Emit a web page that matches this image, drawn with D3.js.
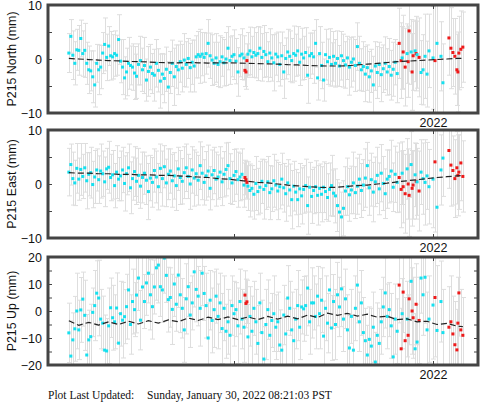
<!DOCTYPE html>
<html><head><meta charset="utf-8">
<script src="https://cdn.jsdelivr.net/npm/d3@7"></script>
<style>body{margin:0;background:#fff}svg{display:block}</style>
</head><body>
<svg id="chart" width="481" height="404"></svg>
<script>
// ---------- DATA ----------
const dates = [
2020.17,2020.18,2020.19,2020.20,2020.21,2020.22,2020.23,2020.24,2020.25,2020.26,
2020.27,2020.28,2020.29,2020.30,2020.31,2020.32,2020.33,2020.34,2020.35,2020.36,
2020.37,2020.38,2020.39,2020.40,2020.41,2020.42,2020.43,2020.44,2020.45,2020.46,
2020.47,2020.48,2020.49,2020.50,2020.51,2020.52,2020.53,2020.54,2020.55,2020.56,
2020.57,2020.58,2020.59,2020.60,2020.61,2020.62,2020.63,2020.64,2020.65,2020.66,
2020.67,2020.68,2020.69,2020.70,2020.71,2020.72,2020.73,2020.74,2020.75,2020.76,
2020.77,2020.78,2020.79,2020.80,2020.81,2020.82,2020.83,2020.84,2020.85,2020.86,
2020.87,2020.88,2020.89,2020.90,2020.91,2020.92,2020.93,2020.94,2020.95,2020.96,
2020.97,2020.98,2020.99,2021.00,2021.01,2021.02,2021.03,2021.04,2021.05,2021.055,
2021.06,2021.065,2021.07,2021.08,2021.09,2021.10,2021.11,2021.12,2021.13,2021.14,
2021.15,2021.16,2021.17,2021.18,2021.19,2021.20,2021.21,2021.22,2021.23,2021.24,
2021.25,2021.26,2021.27,2021.28,2021.29,2021.30,2021.31,2021.32,2021.33,2021.34,
2021.35,2021.36,2021.37,2021.38,2021.39,2021.40,2021.41,2021.42,2021.43,2021.44,
2021.45,2021.46,2021.47,2021.48,2021.49,2021.50,2021.51,2021.52,2021.53,2021.54,
2021.55,2021.56,2021.57,2021.58,2021.59,2021.60,2021.61,2021.62,2021.63,2021.64,
2021.65,2021.66,2021.67,2021.68,2021.69,2021.70,2021.71,2021.72,2021.73,2021.74,
2021.75,2021.76,2021.77,2021.78,2021.79,2021.80,2021.81,2021.82,2021.83,2021.84,
2021.845,2021.85,2021.86,2021.87,2021.875,2021.88,2021.89,2021.895,2021.90,2021.91,
2021.915,2021.92,2021.93,2021.94,2021.95,2021.96,2021.97,2021.98,2022.00,2022.01,
2022.02,2022.04,2022.05,2022.08,2022.09,2022.10,2022.11,2022.12,2022.125,2022.13,
2022.14,2022.15];

// epochs drawn in red (rapid solutions)
const rapidDates = [2021.055,2021.06,2021.065,2021.83,2021.84,2021.85,2021.86,2021.875,2021.88,
2021.895,2021.90,2021.915,2021.93,2022.01,2022.08,2022.09,2022.10,2022.11,2022.12,2022.125,
2022.13,2022.14,2022.15];

const north = [
1.1,4.2,0.7,-0.8,1.7,1.6,3.8,1.0,1.6,-0.8,
-2.0,-2.2,-3.3,-4.8,-0.8,-2.0,-1.5,1.1,2.7,0.3,
2.4,0.6,0.4,1.0,0.7,3.6,-0.4,-1.5,-3.5,-2.4,
-0.8,-1.2,-1.5,-2.6,-3.2,-1.0,-0.3,-2.0,-1.2,-3.9,
-2.3,-1.5,-2.7,-3.0,-0.8,-2.1,-4.1,-2.8,-3.6,-1.9,
-5.2,-2.5,-0.8,-3.3,-1.4,-2.0,-0.5,-1.7,-0.2,-1.0,
0.1,-1.6,-0.6,-1.3,0.4,0.8,0.5,0.9,0.3,1.0,
2.9,0.6,-0.2,-0.8,0.2,-1.0,-0.5,0.4,-0.7,0.0,
2.0,-0.3,0.5,0.8,-0.4,-2.4,0.6,0.9,0.2,-2.1,
-2.4,-0.3,0.9,1.5,0.4,1.2,0.7,1.0,2.0,0.3,
1.4,0.8,-0.5,1.1,0.2,-0.7,0.9,0.4,-1.0,0.6,
-2.4,0.1,1.3,0.5,-0.3,1.0,0.7,1.5,-0.6,0.9,
0.2,1.2,-3.0,0.6,1.0,0.4,2.9,-3.5,1.0,-1.2,
-3.9,0.8,-0.5,0.3,-1.0,0.5,-0.8,0.1,-1.3,0.6,
-0.3,-1.1,0.2,-1.5,-0.6,0.0,-1.2,2.3,-0.8,-2.0,
-1.4,-2.8,-1.6,-3.3,-2.2,-4.8,-1.3,-2.5,-1.0,-2.9,
-1.8,-0.8,-2.4,-1.4,-3.0,-1.9,-0.6,-2.7,2.9,-0.3,
0.2,1.3,-1.5,1.0,-0.5,5.2,1.3,-2.4,0.6,1.5,
1.0,0.8,0.3,-2.5,-2.0,0.5,-2.8,1.5,0.2,-0.3,
2.9,0.5,-4.4,3.9,2.0,1.2,0.5,-2.0,-2.4,1.1,
1.8,2.2];

const east = [
2.2,3.6,1.0,0.2,2.9,0.9,2.7,1.4,3.0,0.6,
1.8,2.1,-0.1,1.3,2.6,0.8,2.4,1.9,0.4,2.8,
3.1,1.2,1.7,-0.3,2.2,0.9,1.5,2.6,0.1,1.9,
3.0,-0.7,1.0,2.3,0.5,1.6,-0.4,1.2,2.0,0.7,
-1.4,1.1,0.3,2.5,1.3,-0.5,2.9,1.0,3.2,0.2,
1.8,2.4,0.6,1.5,-0.3,2.8,1.2,0.5,2.1,3.0,
1.4,0.0,2.6,1.1,1.9,0.7,3.4,2.0,0.3,1.5,
2.4,-0.8,1.7,2.5,0.9,1.3,2.2,0.4,1.8,2.7,
3.4,1.0,0.2,1.6,2.3,0.8,1.3,1.8,-0.2,1.2,
0.8,0.3,-0.4,-1.2,-0.8,-1.9,0.1,-1.4,-0.6,0.5,
-1.0,-0.3,0.4,-1.6,-0.9,0.6,-0.2,-1.3,-0.5,0.9,
-0.7,-1.8,0.2,-1.1,-2.9,-0.4,-1.5,-2.9,-0.9,-2.2,
-1.0,-0.3,-4.0,-0.6,-2.3,-1.2,-0.5,-2.1,-0.8,-1.9,
-0.6,-1.4,-2.5,-1.0,-0.3,-1.7,-2.2,-4.0,-5.2,-6.1,
-4.5,-1.3,-0.5,-2.0,-1.1,0.2,-1.6,-0.4,0.9,-1.2,
-0.2,1.1,3.4,-0.7,0.8,-1.5,0.4,1.6,-0.9,2.0,
0.1,-1.8,0.9,1.4,2.4,-0.6,1.8,0.3,1.2,-1.0,
2.0,-0.5,-1.8,2.8,0.0,-2.1,3.6,-0.8,-0.2,1.7,
0.5,0.4,-1.3,2.2,1.0,0.3,1.5,-0.5,0.9,4.1,
-4.3,2.6,4.8,6.2,3.5,2.5,1.0,3.0,1.6,2.2,
3.9,1.4];

const up = [
-8.1,-16.7,-10.7,-6.6,0.0,-7.0,0.4,4.4,-1.6,-16.3,
-10.7,-9.5,-0.5,2.0,6.6,4.8,-3.0,-4.5,-14.5,-14.8,
-5.5,1.2,-2.5,-4.0,1.1,-11.9,-1.0,-3.4,-2.1,1.6,
7.8,-5.0,3.5,0.5,5.9,12.2,-3.4,8.9,3.5,10.4,
14.0,6.0,1.6,8.9,16.0,17.0,9.0,7.8,19.6,13.2,
4.2,5.0,0.6,10.0,2.5,13.3,6.0,1.0,-7.0,4.5,
9.0,-1.5,3.0,14.5,8.0,5.5,1.0,14.0,6.5,2.0,
-10.0,4.0,-3.5,0.5,5.5,-2.0,3.0,-6.5,1.0,-7.5,
-4.0,-9.0,2.0,-1.0,0.5,-5.5,3.5,-3.0,-6.0,5.9,
2.8,3.4,-9.6,-2.0,-7.5,1.0,-4.0,-12.0,3.0,-8.0,
-17.8,-5.0,0.5,-9.0,-3.5,-1.0,-6.0,-4.0,-12.6,-14.5,
-1.5,-8.5,4.8,1.0,-7.0,-11.0,-3.0,2.0,-6.0,1.5,
0.8,2.0,8.5,-4.0,3.0,3.0,-2.0,5.5,-1.0,4.0,
-9.3,1.0,-4.5,7.8,-6.3,3.5,-5.0,6.0,1.5,8.2,
-3.0,4.5,-7.0,-13.7,-2.0,-14.5,1.0,9.6,-4.0,3.0,
-8.0,-11.0,-16.3,-10.5,-13.0,-6.0,-18.9,-9.0,-12.0,-4.0,
1.5,6.7,-2.0,0.5,-5.5,-17.0,-3.0,-7.5,9.6,-14.0,
-1.0,7.0,-11.0,-3.0,-9.0,4.5,11.0,0.0,-2.5,-14.0,
2.5,-11.5,-3.5,12.2,6.0,12.5,-7.0,-3.0,2.2,5.0,
-7.2,3.5,-8.0,-6.0,-4.0,-8.5,-12.5,-14.4,-4.5,6.7,
-7.0,-9.0];

const northErr = [
3.6,3.1,4.5,4.0,3.8,4.6,3.4,4.2,5.0,3.9,
4.4,3.7,4.8,4.1,3.5,4.6,4.0,3.8,4.9,4.3,
3.6,4.5,4.1,4.2,3.7,4.6,4.0,5.1,3.9,4.4,
4.8,3.6,4.3,4.9,4.1,3.8,4.5,4.0,5.2,3.9,
4.6,4.2,3.7,4.8,4.4,4.0,5.0,3.8,4.5,4.1,
4.7,3.9,4.3,5.3,4.0,4.6,3.8,4.4,4.9,4.2,
3.7,4.5,4.1,4.8,3.9,4.3,5.0,4.0,4.6,3.8,
4.4,4.2,4.7,3.9,4.5,4.1,4.8,3.6,4.3,4.9,
4.0,4.4,3.8,4.6,4.2,4.5,3.9,4.7,4.1,3.0,
3.2,3.1,4.0,4.4,3.8,4.6,4.2,5.0,3.9,4.4,
4.8,4.1,3.7,4.5,4.3,5.2,3.9,4.6,4.0,4.4,
4.9,3.8,4.2,4.7,4.1,5.1,3.9,4.5,4.3,4.8,
4.0,4.6,5.2,4.2,3.8,4.9,4.4,4.1,5.0,4.3,
3.9,4.7,4.2,5.3,4.0,4.6,4.4,5.1,3.8,4.5,
4.9,4.3,4.0,5.2,4.6,4.1,4.8,4.4,5.0,3.9,
4.6,5.1,4.2,4.7,4.0,5.3,4.5,4.8,4.1,5.0,
4.4,4.9,4.3,5.2,4.6,5.0,4.2,5.4,6.5,7.0,
5.8,6.8,7.2,5.5,6.6,7.5,6.0,7.1,6.4,5.7,
6.9,6.2,7.3,5.9,6.5,7.8,6.1,6.8,9.5,14.0,
16.0,6.4,7.2,6.9,7.5,6.3,7.0,6.6,7.4,6.8,
7.1,6.5];

const eastErr = [
4.4,3.8,4.9,4.2,4.6,3.9,4.8,4.1,4.5,5.2,
4.0,4.7,4.3,4.9,3.9,4.4,5.0,4.2,4.6,3.8,
4.8,4.3,4.5,4.1,4.9,4.0,4.6,4.2,5.1,3.9,
4.4,4.8,4.0,4.6,4.3,5.0,4.1,4.7,3.9,4.5,
5.2,4.2,4.6,4.0,4.8,4.3,4.5,5.1,3.9,4.4,
4.7,4.1,4.9,4.3,4.6,4.0,5.0,4.2,4.8,4.4,
4.1,4.7,4.3,5.2,4.0,4.6,4.4,4.9,4.2,4.5,
4.8,4.0,4.6,4.3,5.0,4.1,4.7,4.4,4.2,4.9,
4.3,4.6,4.0,4.8,4.2,5.1,4.4,4.7,4.1,3.2,
3.4,3.1,4.5,4.9,4.2,4.6,5.0,4.3,4.8,4.1,
5.5,4.4,4.7,5.0,4.2,4.9,4.6,5.3,4.1,4.8,
4.5,5.1,4.3,4.8,5.4,4.6,4.2,5.0,4.7,5.2,
4.4,4.9,5.3,4.6,5.0,4.3,4.8,5.5,4.5,5.1,
4.7,5.2,4.4,4.9,5.6,4.3,5.0,4.8,5.4,4.6,
5.1,4.5,5.3,4.9,4.4,5.7,4.8,5.2,4.6,5.0,
4.7,5.4,4.3,5.1,4.9,5.5,4.6,5.2,4.8,5.3,
5.0,4.6,5.4,4.9,5.7,4.5,5.2,5.6,6.4,7.1,
5.8,6.7,7.3,5.6,6.5,7.6,6.1,7.0,6.3,5.9,
7.0,6.2,7.4,6.0,6.6,7.9,6.2,6.9,9.0,13.0,
15.0,6.5,7.1,7.0,7.6,6.4,7.2,6.7,7.5,6.9,
7.0,6.6];

const upErr = [
11,13,10,12,14,11,12,10,13,15,
11,12,9,13,12,14,11,10,13,12,
14,11,12,10,13,11,12,14,10,12,
13,11,12,10,14,12,11,13,10,12,
11,13,12,10,12,14,11,12,13,10,
12,11,13,12,10,12,14,11,12,13,
11,12,10,13,12,11,14,12,10,12,
13,11,12,14,10,12,11,13,12,10,
12,13,11,12,10,14,12,11,13,9,
9,8,12,11,13,10,12,14,11,12,
12,13,11,12,10,14,12,11,13,12,
11,13,12,10,14,12,11,13,12,10,
12,11,14,12,13,10,12,11,13,12,
13,12,11,14,12,10,13,12,11,14,
12,11,13,12,10,13,12,14,11,12,
13,12,11,12,14,13,11,12,13,12,
11,13,12,10,12,14,13,12,14,15,
13,15,16,14,15,17,14,16,15,13,
15,14,16,13,15,17,14,16,20,22,
24,15,16,15,17,14,16,15,17,16,
15,14];

// model (dashed) curves
const modelDates = [2020.17,2020.22,2020.27,2020.32,2020.37,2020.42,2020.47,2020.52,2020.57,2020.62,
2020.67,2020.72,2020.77,2020.82,2020.87,2020.92,2020.97,2021.02,2021.07,2021.12,
2021.17,2021.22,2021.27,2021.32,2021.37,2021.42,2021.47,2021.52,2021.57,2021.62,
2021.67,2021.72,2021.77,2021.82,2021.87,2021.92,2021.97,2022.02,2022.07,2022.12,2022.15];
const northModel = [0.1,0.0,-0.1,-0.2,-0.3,-0.35,-0.45,-0.5,-0.55,-0.65,
-0.7,-0.7,-0.65,-0.7,-0.75,-0.7,-0.7,-0.75,-0.8,-0.85,
-0.9,-0.95,-1.05,-1.1,-1.2,-1.25,-1.3,-1.3,-1.25,-1.1,
-0.95,-0.8,-0.65,-0.5,-0.4,-0.3,-0.2,-0.1,0.0,0.1,0.1];
const eastModel = [2.1,2.0,2.0,1.9,1.9,1.8,1.8,1.7,1.7,1.6,
1.6,1.5,1.4,1.3,1.2,1.0,0.9,0.7,0.5,0.3,
0.2,0.0,-0.2,-0.35,-0.5,-0.6,-0.65,-0.6,-0.45,-0.3,
-0.2,0.0,0.15,0.4,0.6,0.8,1.0,1.2,1.35,1.5,1.6];
const upModel = [-3.6,-5.3,-4.2,-5.2,-4.0,-5.0,-3.8,-4.8,-3.6,-4.5,
-3.3,-4.0,-2.6,-3.5,-2.3,-3.2,-2.2,-3.2,-2.2,-3.2,
-2.0,-3.0,-1.9,-2.9,-1.5,-2.4,-0.8,-1.6,-0.9,-1.9,
-1.2,-2.3,-1.9,-3.2,-2.9,-4.0,-3.8,-5.0,-4.6,-5.6,-5.8];

const xTickValues = [2021, 2022];
const xTickLabels = ["", "2022"];
const neTicks = [-10, -5, 0, 5, 10];
const neLabels = [-10, 0, 10];
const upTicks = [-20, -15, -10, -5, 0, 5, 10, 15, 20];
const upLabels = [-20, -10, 0, 10, 20];
const titles = ["P215 North (mm)", "P215 East (mm)", "P215 Up (mm)"];
const footerLabel = "Plot Last Updated:";
const footerDate = "Sunday, January 30, 2022 08:21:03 PST";

// ---------- DRAW ----------
const svg = d3.select("#chart");
const X0 = 48, X1 = 478;
const x = d3.scaleLinear().domain([2021 - 186/199, 2022 + 45/199]).range([X0, X1]);
const rapid = new Set(rapidDates.map(d => d.toFixed(3)));
const CYAN = "#16e0ef", RED = "#ee1a1a", FRAME = "#444";

const panels = [
  {vals: north, errs: northErr, model: northModel, top: 5, bottom: 113, dom: [-10, 10], ticks: neTicks, labels: neLabels, title: titles[0]},
  {vals: east, errs: eastErr, model: eastModel, top: 130, bottom: 238, dom: [-10, 10], ticks: neTicks, labels: neLabels, title: titles[1]},
  {vals: up, errs: upErr, model: upModel, top: 257, bottom: 365, dom: [-20, 20], ticks: upTicks, labels: upLabels, title: titles[2]}
];

panels.forEach((p, k) => {
  const y = d3.scaleLinear().domain(p.dom).range([p.bottom, p.top]);
  const clipId = "clip" + k;
  svg.append("clipPath").attr("id", clipId).append("rect")
    .attr("x", X0).attr("y", p.top).attr("width", X1 - X0).attr("height", p.bottom - p.top);
  const g = svg.append("g").attr("clip-path", `url(#${clipId})`);
  const pts = dates.map((d, i) => ({d, v: p.vals[i], s: p.errs[i], red: rapid.has(d.toFixed(3))}));

  // error bars
  const eb = g.append("g").attr("stroke", "#dedede").attr("stroke-width", 1);
  pts.forEach(o => {
    const xx = Math.round(x(o.d)) + 0.5;
    const yl = y(o.v - o.s), yh = y(o.v + o.s);
    eb.append("line").attr("x1", xx).attr("x2", xx).attr("y1", yl).attr("y2", yh);
    eb.append("line").attr("x1", xx - 2.5).attr("x2", xx + 2.5).attr("y1", yl).attr("y2", yl);
    eb.append("line").attr("x1", xx - 2.5).attr("x2", xx + 2.5).attr("y1", yh).attr("y2", yh);
  });

  // points
  g.append("g").selectAll("rect").data(pts).join("rect")
    .attr("x", o => x(o.d) - 1.5).attr("y", o => y(o.v) - 1.5)
    .attr("width", 3).attr("height", 3)
    .attr("fill", o => o.red ? RED : CYAN);

  // model
  const line = d3.line().x(d => x(d[0])).y(d => y(d[1]));
  g.append("path").datum(modelDates.map((d, i) => [d, p.model[i]]))
    .attr("d", line).attr("fill", "none").attr("stroke", "#222")
    .attr("stroke-width", 1.2).attr("stroke-dasharray", "6,3");

  // axes (inward ticks)
  const fmt = d3.format("d");
  const left = svg.append("g").attr("transform", `translate(${X0},0)`)
    .call(d3.axisLeft(y).tickValues(p.ticks).tickSizeInner(-4).tickSizeOuter(0).tickPadding(6)
      .tickFormat(d => p.labels.includes(d) ? fmt(d) : ""));
  const right = svg.append("g").attr("transform", `translate(${X1},0)`)
    .call(d3.axisRight(y).tickValues(p.ticks).tickSizeInner(-4).tickSizeOuter(0).tickFormat(""));
  const top = svg.append("g").attr("transform", `translate(0,${p.top})`)
    .call(d3.axisTop(x).tickValues(xTickValues).tickSizeInner(-4).tickSizeOuter(0).tickFormat(""));
  const bottom = svg.append("g").attr("transform", `translate(0,${p.bottom})`)
    .call(d3.axisBottom(x).tickValues(xTickValues).tickSizeInner(-4).tickSizeOuter(0).tickPadding(5)
      .tickFormat((d, i) => xTickLabels[i]));
  [left, right, top, bottom].forEach(a => {
    a.select(".domain").remove();
    a.attr("color", FRAME).attr("font-family", "'Liberation Sans', Arial, sans-serif").attr("font-size", 12.5);
    a.selectAll("text").attr("fill", "#111");
  });
  left.selectAll("text").attr("dy", "0.36em");

  // frame
  svg.append("rect").attr("x", X0).attr("y", p.top).attr("width", X1 - X0).attr("height", p.bottom - p.top)
    .attr("fill", "none").attr("stroke", FRAME).attr("stroke-width", 3);

  // title
  svg.append("text").attr("transform", `translate(16,${(p.top + p.bottom) / 2}) rotate(-90)`)
    .attr("text-anchor", "middle").attr("font-family", "'Liberation Sans', Arial, sans-serif")
    .attr("font-size", 12.4).attr("fill", "#111").text(p.title);
});

// footer
const ft = svg.append("g").attr("font-family", "'Liberation Serif', 'Times New Roman', serif")
  .attr("font-size", 11.5).attr("fill", "#111");
ft.append("text").attr("x", 48).attr("y", 399).text(footerLabel);
ft.append("text").attr("x", 147).attr("y", 399).text(footerDate);
</script>
</body></html>
